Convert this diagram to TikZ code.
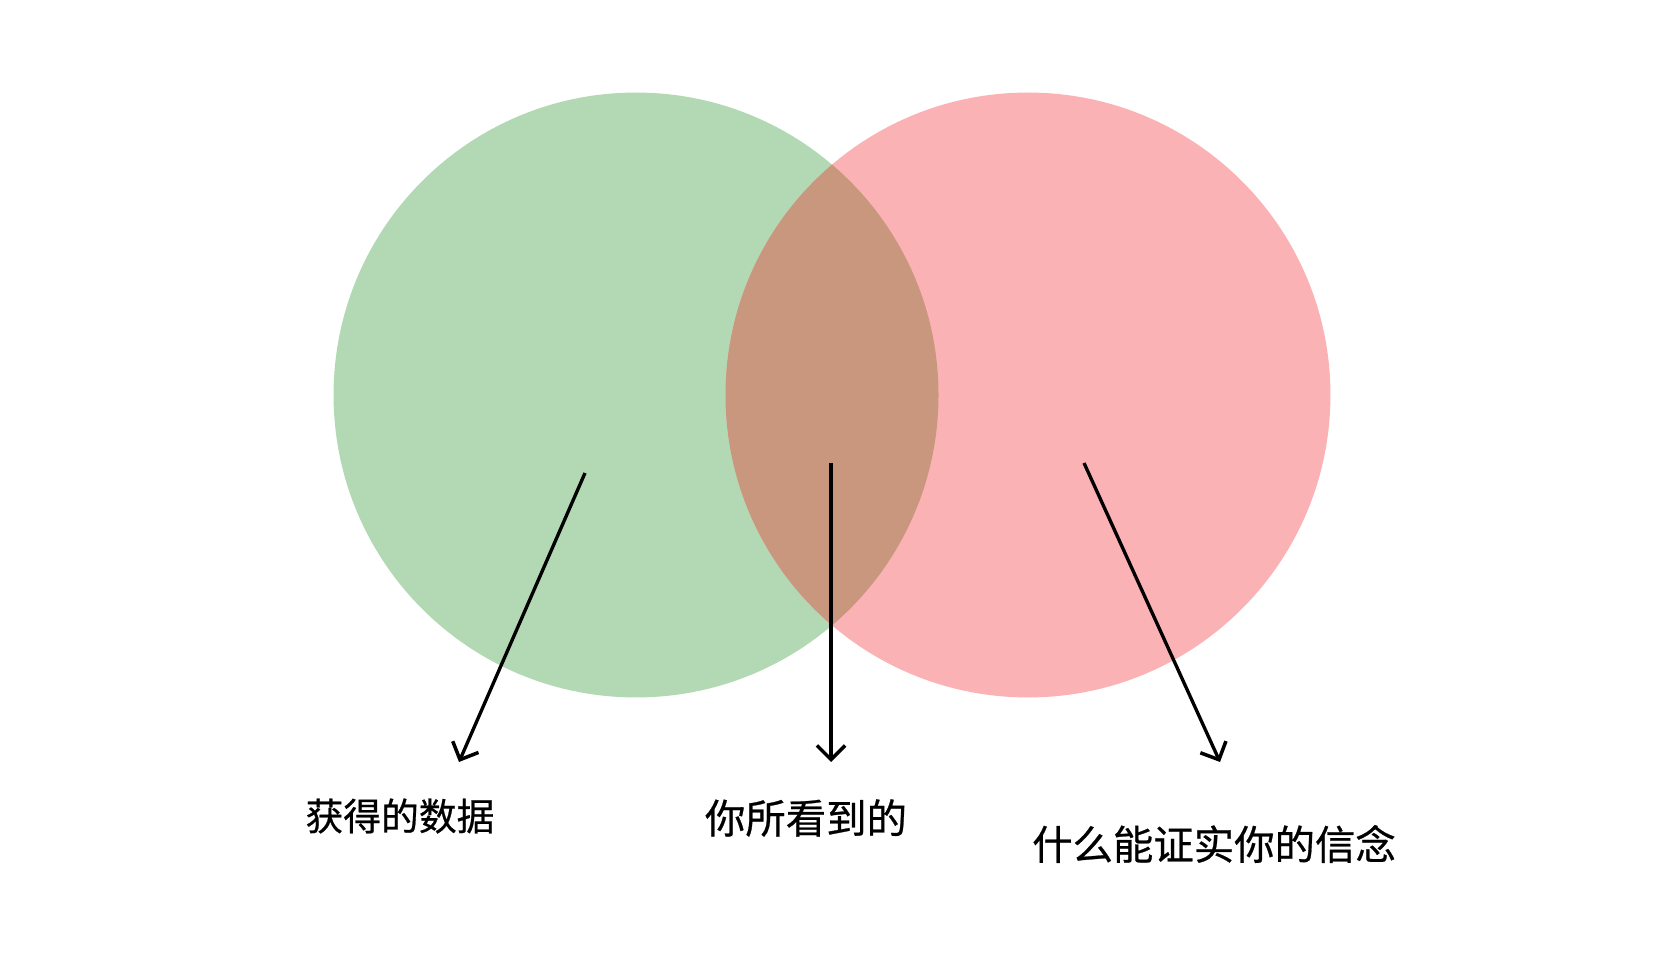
\documentclass[tikz,border=0pt]{standalone}
\usepackage{fontspec}
\setmainfont{Noto Sans CJK SC}
\newfontfamily\lblfont{Noto Sans CJK SC}[FakeBold=0.6]
\usepackage{tikz}
\usetikzlibrary{arrows.meta, positioning}
\definecolor{setgreen}{HTML}{B3D9B4}
\definecolor{setpink}{HTML}{FBB2B4}
\definecolor{setbrown}{HTML}{C9977D}
\tikzset{
  vset/.style={circle, draw=none, minimum size=12.1cm, inner sep=0pt},
  pt/.style={-{Straight Barb[length=8pt, width=16pt, line width=2pt]}, draw=black, line width=1.9pt},
  lbl/.style={font=\lblfont\fontsize{23}{26}\selectfont, inner sep=0pt, anchor=center},
}
\begin{document}
\begin{tikzpicture}[x=0.02cm, y=-0.02cm]
\useasboundingbox[fill=white] (0,0) rectangle (1656,979);

\node[vset, fill=setgreen] (data) at (636,395) {};
\node[vset, fill=setpink] (belief) at (1028,395) {};
\begin{scope}
  \clip (data.center) circle[radius=302.5];
  \fill[setbrown] (belief.center) circle[radius=302.5];
\end{scope}

\node[lbl, font=\lblfont\fontsize{21.5}{24}\selectfont] (Ldata) at (400,816) {获得的数据};
\node[lbl] (Lseen) at (806,818) {你所看到的};
\node[lbl] (Lbelief) at (1214,844) {什么能证实你的信念};

\coordinate (pA) at (585,473);
\coordinate (pB) at (831,463);
\coordinate (pC) at (1084,463);
\coordinate (tA) at (459,762);
\coordinate (tB) at (831,762);
\coordinate (tC) at (1220,762);

\draw[pt] (pA) -- (tA);
\draw[pt] (pB) -- (tB);
\draw[pt] (pC) -- (tC);
\end{tikzpicture}
\end{document}
